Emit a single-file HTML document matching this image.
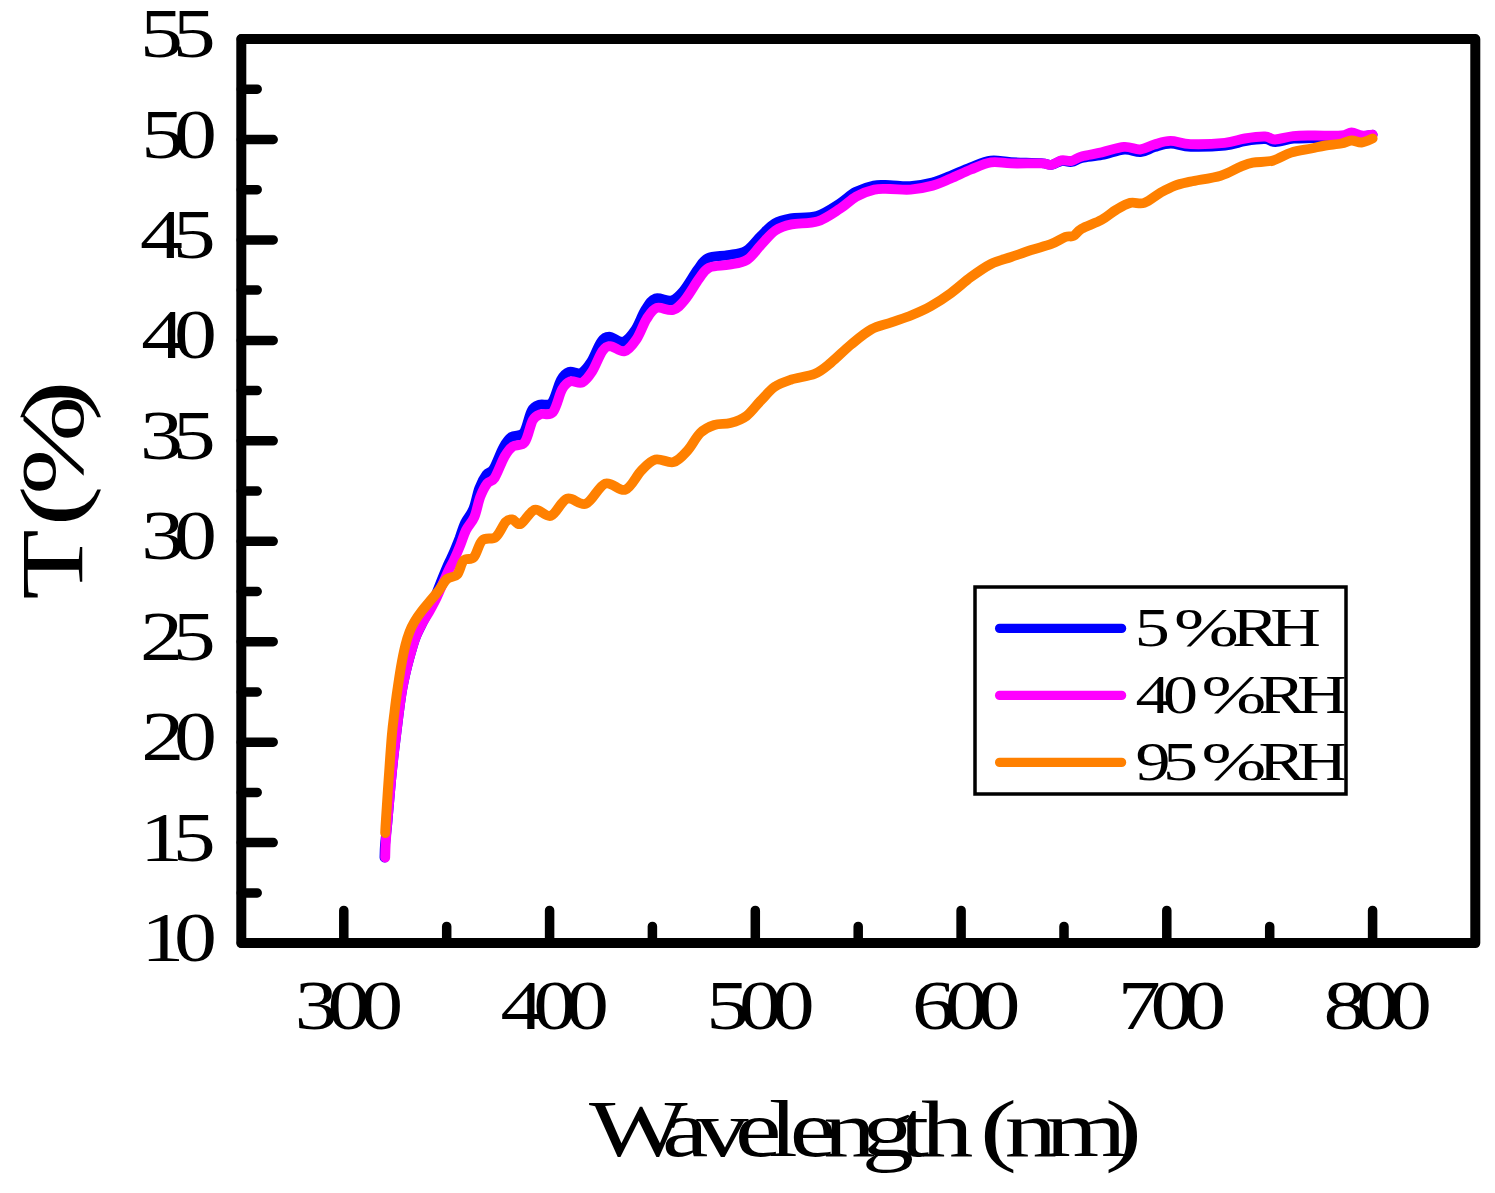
<!DOCTYPE html>
<html lang="en"><head><meta charset="utf-8"><title>T (%) vs Wavelength (nm)</title>
<style>html,body{margin:0;padding:0;background:#fff}svg{display:block}text{font-family:"Liberation Serif",serif;fill:#000}</style>
</head><body>
<svg width="1495" height="1193" viewBox="0 0 1495 1193">
<rect width="1495" height="1193" fill="#fff"/>
<defs><clipPath id="lg"><rect x="976" y="588" width="368.5" height="205"/></clipPath></defs>
<g fill="none" stroke-width="9.9" stroke-linecap="round" stroke-linejoin="round">
<path stroke="#0000ff" d="M384.5 857.5 C384.6 855.4 384.6 850.2 385.0 845.0 C385.4 839.8 386.3 833.3 387.0 826.4 C387.7 819.5 388.3 811.3 389.0 803.8 C389.7 796.2 390.3 788.6 391.0 781.1 C391.7 773.6 392.5 766.0 393.3 758.5 C394.1 751.0 395.1 743.3 396.0 735.8 C396.9 728.2 397.8 720.7 398.8 713.2 C399.8 705.7 400.7 698.2 402.0 690.6 C403.3 683.0 405.0 675.5 406.8 667.9 C408.6 660.3 411.4 650.8 413.0 645.3 C414.6 639.8 415.0 638.7 416.6 635.0 C418.2 631.3 420.4 627.1 422.5 622.9 C424.6 618.6 427.3 613.6 429.3 609.4 C431.3 605.2 432.9 601.7 434.6 597.8 C436.3 593.8 437.3 590.9 439.5 585.5 C441.6 580.1 445.3 570.9 447.6 565.6 C449.9 560.3 451.3 558.3 453.2 553.8 C455.2 549.2 457.6 543.1 459.6 538.0 C461.5 532.8 462.8 527.7 465.1 522.8 C467.4 518.0 471.1 514.7 473.4 508.9 C475.8 503.2 477.1 494.0 479.3 488.3 C481.4 482.6 483.9 477.9 486.3 474.7 C488.6 471.4 490.6 473.6 493.5 469.0 C496.4 464.4 500.5 452.5 503.5 447.2 C506.5 441.8 508.2 439.3 511.6 436.9 C514.9 434.5 520.2 437.3 523.6 432.9 C526.9 428.5 529.0 415.4 531.7 410.7 C534.3 406.0 536.3 406.0 539.7 404.7 C543.0 403.4 548.2 406.8 551.8 402.7 C555.3 398.6 558.1 385.0 561.0 379.9 C563.8 374.8 565.7 373.1 569.1 371.9 C572.4 370.7 577.5 374.6 581.2 372.9 C584.8 371.2 587.8 367.0 591.2 361.8 C594.5 356.6 598.2 345.9 601.3 341.7 C604.3 337.5 605.6 336.7 609.3 336.7 C612.9 336.7 619.0 342.9 623.4 341.7 C627.7 340.5 631.8 335.0 635.5 329.6 C639.1 324.2 642.1 314.7 645.5 309.5 C648.8 304.3 651.2 299.9 655.6 298.4 C659.9 296.9 667.0 301.8 671.7 300.5 C676.4 299.2 679.4 295.6 683.8 290.4 C688.1 285.2 693.8 274.7 697.9 269.3 C701.9 263.9 702.8 260.6 707.9 258.2 C712.9 255.8 721.6 256.4 728.0 255.2 C734.3 254.0 740.7 253.8 746.1 250.7 C751.5 247.6 755.6 241.1 760.3 236.6 C765.1 232.1 769.5 226.5 774.6 223.5 C779.6 220.5 783.7 219.7 790.8 218.4 C797.9 217.2 808.9 218.4 817.0 216.0 C825.2 213.5 833.1 207.7 839.5 203.7 C845.9 199.7 849.9 195.0 855.6 192.0 C861.4 189.0 868.1 186.6 873.8 185.5 C879.5 184.3 883.9 185.1 889.9 185.2 C896.0 185.3 903.0 186.6 910.1 186.1 C917.1 185.7 925.6 184.2 932.3 182.5 C939.1 180.8 944.1 178.3 950.5 175.8 C956.9 173.2 963.9 169.8 970.6 167.3 C977.4 164.8 984.1 161.5 990.8 160.7 C997.5 159.8 1002.5 161.8 1011.0 162.2 C1019.4 162.6 1034.5 162.7 1041.3 163.1 C1048.0 163.6 1048.0 165.2 1051.4 164.9 C1054.8 164.5 1058.1 161.5 1061.5 161.0 C1064.8 160.5 1068.2 162.4 1071.6 161.9 C1075.0 161.4 1076.7 159.2 1081.8 158.0 C1086.9 156.9 1094.9 156.4 1102.0 155.0 C1109.1 153.6 1118.0 150.0 1124.4 149.5 C1130.8 149.0 1135.5 152.5 1140.5 152.1 C1145.5 151.7 1149.6 148.5 1154.6 147.1 C1159.6 145.7 1164.7 143.6 1170.7 143.5 C1176.7 143.4 1181.8 146.4 1190.8 146.7 C1199.9 147.0 1215.9 146.4 1225.0 145.5 C1234.1 144.6 1238.5 142.2 1245.2 141.1 C1251.9 140.0 1260.3 138.9 1265.3 139.1 C1270.3 139.3 1270.7 142.2 1275.4 142.1 C1280.1 142.0 1287.1 139.4 1293.5 138.7 C1299.9 138.0 1305.6 138.3 1313.6 138.1 C1321.6 137.9 1335.3 138.1 1341.6 137.4 C1348.0 136.7 1348.3 133.9 1351.7 133.7 C1355.0 133.5 1358.2 136.0 1361.7 136.2 C1365.2 136.4 1370.8 135.0 1372.6 134.8"/>
<path stroke="#ff00ff" d="M385.2 857.5 C385.3 855.4 385.3 850.2 385.6 845.0 C385.9 839.8 386.4 833.3 387.0 826.4 C387.6 819.5 388.3 811.3 389.0 803.8 C389.7 796.2 390.3 788.6 391.0 781.1 C391.7 773.6 392.5 766.0 393.3 758.5 C394.1 751.0 395.1 743.3 396.0 735.8 C396.9 728.2 397.8 720.7 398.8 713.2 C399.8 705.7 400.7 698.2 402.0 690.6 C403.3 683.0 405.0 675.5 406.8 667.9 C408.6 660.3 411.4 650.8 413.0 645.3 C414.6 639.8 415.0 638.7 416.6 635.0 C418.2 631.3 420.4 627.0 422.5 623.0 C424.6 619.0 427.4 615.0 429.5 611.3 C431.6 607.6 433.2 604.5 435.0 601.0 C436.8 597.5 437.8 595.0 440.0 590.0 C442.2 585.0 446.0 576.1 448.3 571.1 C450.6 566.1 452.0 564.4 454.0 560.0 C456.0 555.6 458.4 550.0 460.4 545.0 C462.4 540.0 463.7 535.0 466.0 530.3 C468.3 525.6 472.0 522.6 474.4 517.0 C476.8 511.4 478.1 502.4 480.3 496.8 C482.5 491.2 484.9 486.5 487.3 483.4 C489.7 480.3 491.7 482.5 494.6 478.0 C497.5 473.5 501.6 461.8 504.6 456.5 C507.6 451.2 509.4 448.8 512.7 446.4 C516.1 444.0 521.4 446.8 524.7 442.4 C528.1 438.0 530.1 424.9 532.8 420.2 C535.5 415.5 537.4 415.5 540.8 414.2 C544.1 412.9 549.3 416.3 552.9 412.2 C556.5 408.1 559.2 394.5 562.1 389.4 C565.0 384.3 566.8 382.6 570.2 381.4 C573.6 380.2 578.6 384.1 582.3 382.4 C586.0 380.7 588.9 376.5 592.3 371.3 C595.6 366.1 599.4 355.4 602.4 351.2 C605.4 347.0 606.7 346.2 610.4 346.2 C614.1 346.2 620.1 352.4 624.5 351.2 C628.9 350.0 632.9 344.5 636.6 339.1 C640.3 333.7 643.2 324.2 646.6 319.0 C650.0 313.8 652.3 309.4 656.7 307.9 C661.1 306.4 668.1 311.3 672.8 310.0 C677.5 308.7 680.5 305.1 684.9 299.9 C689.3 294.7 695.0 284.2 699.0 278.8 C703.0 273.4 704.0 270.1 709.0 267.7 C714.0 265.3 722.7 266.0 729.1 264.7 C735.5 263.4 741.8 263.1 747.2 259.7 C752.6 256.3 756.6 249.5 761.3 244.6 C766.0 239.7 770.4 233.9 775.4 230.5 C780.4 227.1 784.5 225.9 791.5 224.4 C798.5 222.9 809.6 224.0 817.7 221.4 C825.8 218.8 833.7 212.8 840.1 208.7 C846.5 204.6 850.5 199.8 856.2 196.6 C861.9 193.4 868.6 190.9 874.3 189.6 C880.0 188.3 884.4 189.0 890.4 189.0 C896.4 189.0 903.5 190.2 910.5 189.6 C917.5 189.0 926.0 187.4 932.7 185.6 C939.4 183.8 944.4 181.2 950.8 178.5 C957.2 175.8 964.2 172.2 970.9 169.5 C977.6 166.8 984.3 163.4 991.0 162.4 C997.7 161.4 1002.7 163.2 1011.1 163.4 C1019.5 163.6 1034.6 163.2 1041.3 163.4 C1048.0 163.6 1048.1 165.3 1051.4 164.8 C1054.8 164.3 1058.1 161.1 1061.4 160.4 C1064.8 159.7 1068.1 161.5 1071.5 160.8 C1074.9 160.1 1076.6 157.8 1081.6 156.4 C1086.6 155.0 1094.6 154.0 1101.7 152.4 C1108.8 150.8 1117.7 147.4 1124.1 146.9 C1130.5 146.4 1135.2 149.9 1140.2 149.5 C1145.2 149.1 1149.3 145.9 1154.3 144.5 C1159.3 143.1 1164.4 141.0 1170.4 140.9 C1176.4 140.8 1181.5 143.8 1190.5 144.1 C1199.5 144.4 1215.6 143.8 1224.7 142.9 C1233.8 142.0 1238.2 139.6 1244.9 138.5 C1251.6 137.4 1260.0 136.3 1265.0 136.5 C1270.0 136.7 1270.4 139.6 1275.1 139.5 C1279.8 139.4 1286.8 136.8 1293.2 136.1 C1299.6 135.4 1305.3 135.6 1313.3 135.5 C1321.3 135.4 1335.0 136.0 1341.4 135.5 C1347.8 135.0 1348.1 132.4 1351.5 132.4 C1354.9 132.4 1358.1 135.1 1361.6 135.5 C1365.1 135.9 1370.8 134.9 1372.6 134.8"/>
<path stroke="#ff8000" d="M385.2 833.0 C385.3 830.8 385.3 828.6 385.9 820.0 C386.4 811.4 387.5 795.1 388.5 781.1 C389.5 767.1 390.8 747.3 391.8 735.8 C392.8 724.3 393.6 719.5 394.5 712.0 C395.4 704.5 396.2 698.0 397.3 690.6 C398.4 683.2 399.5 675.5 400.8 667.9 C402.1 660.3 403.9 651.3 405.4 645.3 C406.8 639.3 408.0 635.9 409.5 632.0 C411.0 628.1 412.2 625.5 414.3 622.0 C416.4 618.5 419.1 614.5 421.8 611.0 C424.5 607.5 427.5 604.1 430.3 600.7 C433.1 597.3 435.9 594.2 438.7 590.6 C441.5 587.0 444.0 581.5 447.1 578.9 C450.2 576.2 454.3 577.8 457.1 574.7 C459.9 571.6 461.0 563.3 463.8 560.4 C466.6 557.5 470.8 560.5 473.9 557.1 C477.0 553.8 478.7 543.6 482.3 540.3 C485.9 536.9 491.8 540.1 495.7 537.0 C499.6 533.9 502.9 524.8 505.7 521.9 C508.5 519.0 509.9 519.1 512.4 519.4 C514.9 519.7 517.0 525.5 520.7 523.9 C524.4 522.3 529.8 511.2 534.8 509.8 C539.8 508.4 545.5 517.6 550.9 515.8 C556.3 513.9 561.1 500.7 567.0 498.7 C572.9 496.7 579.7 506.2 586.1 503.7 C592.5 501.2 598.7 485.9 605.2 483.6 C611.8 481.3 619.4 491.9 625.4 489.7 C631.4 487.5 636.4 475.5 641.4 470.5 C646.4 465.5 650.1 460.9 655.5 459.5 C660.9 458.1 668.2 463.6 673.6 462.1 C679.0 460.6 683.3 455.2 687.7 450.4 C692.1 445.5 695.8 437.2 700.2 433.0 C704.6 428.8 709.3 426.7 714.3 425.0 C719.3 423.3 725.0 424.5 730.4 423.0 C735.8 421.5 741.5 419.6 746.5 415.9 C751.5 412.2 755.9 405.6 760.6 400.8 C765.3 396.0 769.7 390.3 774.7 386.8 C779.7 383.3 784.1 381.9 790.8 379.7 C797.5 377.5 808.2 376.5 814.9 373.7 C821.6 370.9 825.0 367.5 831.0 362.6 C837.0 357.7 844.4 350.0 851.1 344.5 C857.8 339.0 864.6 333.1 871.3 329.4 C878.0 325.7 884.7 324.8 891.4 322.4 C898.1 320.0 905.0 318.0 911.5 315.3 C918.0 312.6 924.2 310.0 930.7 306.3 C937.2 302.6 944.1 298.1 950.8 293.2 C957.5 288.3 964.2 282.0 970.9 277.1 C977.6 272.2 984.3 267.4 991.0 264.0 C997.7 260.6 1004.4 259.3 1011.1 257.0 C1017.8 254.7 1024.6 252.2 1031.3 250.0 C1038.0 247.8 1045.7 246.1 1051.4 243.9 C1057.1 241.7 1061.8 238.2 1065.5 236.9 C1069.2 235.6 1070.8 237.2 1073.5 235.9 C1076.2 234.6 1076.9 231.5 1081.6 228.8 C1086.3 226.1 1096.0 223.0 1101.7 219.8 C1107.5 216.7 1111.3 212.7 1116.1 209.9 C1120.8 207.1 1125.5 204.1 1130.2 202.9 C1134.9 201.7 1139.3 204.6 1144.3 202.9 C1149.3 201.2 1155.4 195.7 1160.4 192.8 C1165.4 190.0 1169.4 187.7 1174.4 185.8 C1179.4 184.0 1182.8 183.4 1190.5 181.7 C1198.2 180.0 1212.3 178.2 1220.7 175.7 C1229.1 173.2 1235.4 168.8 1240.8 166.6 C1246.2 164.4 1247.5 163.6 1252.9 162.6 C1258.3 161.6 1266.6 162.3 1273.0 160.6 C1279.4 158.9 1284.7 154.6 1291.1 152.6 C1297.5 150.6 1305.6 149.7 1311.3 148.5 C1317.0 147.3 1320.4 146.3 1325.4 145.5 C1330.4 144.7 1337.1 144.3 1341.4 143.5 C1345.8 142.7 1348.1 140.7 1351.5 140.5 C1354.9 140.3 1358.1 142.8 1361.6 142.5 C1365.1 142.2 1370.8 139.2 1372.6 138.5"/>
</g>
<g fill="none" stroke="#000" stroke-linecap="round" stroke-linejoin="round">
<rect x="241.3" y="39.0" width="1234.0" height="904.1" stroke-width="10"/>
<path stroke-width="9.5" d="M241.3 943.1 H273.2 M241.3 892.9 H257.2 M241.3 842.6 H273.2 M241.3 792.4 H257.2 M241.3 742.2 H273.2 M241.3 692.0 H257.2 M241.3 641.7 H273.2 M241.3 591.5 H257.2 M241.3 541.3 H273.2 M241.3 491.1 H257.2 M241.3 440.8 H273.2 M241.3 390.6 H257.2 M241.3 340.4 H273.2 M241.3 290.1 H257.2 M241.3 239.9 H273.2 M241.3 189.7 H257.2 M241.3 139.5 H273.2 M241.3 89.2 H257.2 M241.3 39.0 H273.2 M343.8 943.1 V910.4 M446.7 943.1 V926.4 M549.6 943.1 V910.4 M652.4 943.1 V926.4 M755.3 943.1 V910.4 M858.2 943.1 V926.4 M961.1 943.1 V910.4 M1064.0 943.1 V926.4 M1166.8 943.1 V910.4 M1269.7 943.1 V926.4 M1372.6 943.1 V910.4"/>
</g>
<text transform="translate(141.3 961.1) scale(1.250 1)" font-size="68.7" x="0.00 26.16">10</text>
<text transform="translate(140.1 860.6) scale(1.250 1)" font-size="68.7" x="0.00 26.16">15</text>
<text transform="translate(141.3 760.2) scale(1.250 1)" font-size="68.7" x="0.00 26.16">20</text>
<text transform="translate(140.1 659.7) scale(1.250 1)" font-size="68.7" x="0.00 26.16">25</text>
<text transform="translate(141.3 559.3) scale(1.250 1)" font-size="68.7" x="0.00 26.16">30</text>
<text transform="translate(140.1 458.8) scale(1.250 1)" font-size="68.7" x="0.00 26.16">35</text>
<text transform="translate(141.3 358.4) scale(1.250 1)" font-size="68.7" x="0.00 26.16">40</text>
<text transform="translate(140.1 257.9) scale(1.250 1)" font-size="68.7" x="0.00 26.16">45</text>
<text transform="translate(141.3 157.5) scale(1.250 1)" font-size="68.7" x="0.00 26.16">50</text>
<text transform="translate(140.1 57.0) scale(1.250 1)" font-size="68.7" x="0.00 26.16">55</text>
<text transform="translate(294.8 1029.0) scale(1.250 1)" font-size="68.7" x="0.00 26.16 52.32">300</text>
<text transform="translate(500.5 1029.0) scale(1.250 1)" font-size="68.7" x="0.00 26.16 52.32">400</text>
<text transform="translate(706.3 1029.0) scale(1.250 1)" font-size="68.7" x="0.00 26.16 52.32">500</text>
<text transform="translate(912.0 1029.0) scale(1.250 1)" font-size="68.7" x="0.00 26.16 52.32">600</text>
<text transform="translate(1117.8 1029.0) scale(1.250 1)" font-size="68.7" x="0.00 26.16 52.32">700</text>
<text transform="translate(1323.5 1029.0) scale(1.250 1)" font-size="68.7" x="0.00 26.16 52.32">800</text>
<text transform="translate(588.9 1156.2) scale(1.290 1)" font-size="81.0" x="0.00 56.60 83.21 113.20 139.50 155.70 181.92 211.52 241.11 257.39 287.76 303.14 322.33 353.71 400.04">Wavelength <tspan textLength="28.59" lengthAdjust="spacingAndGlyphs">(</tspan>nm<tspan textLength="28.59" lengthAdjust="spacingAndGlyphs">)</tspan></text>
<text transform="translate(82.1 599.6) rotate(-90) scale(1.286 1)" font-size="89.5" x="0.00 42.38 56.84 81.49 138.65">T <tspan textLength="31.89" lengthAdjust="spacingAndGlyphs">(</tspan><tspan textLength="76.79" lengthAdjust="spacingAndGlyphs">%</tspan><tspan textLength="31.89" lengthAdjust="spacingAndGlyphs">)</tspan></text>
<rect x="975" y="587" width="371" height="207" fill="none" stroke="#000" stroke-width="3.5"/>
<g fill="none" stroke-width="9.3" stroke-linecap="round">
<path stroke="#0000ff" d="M999.6 628.4 H1121.6"/>
<path stroke="#ff00ff" d="M999.6 695.4 H1121.6"/>
<path stroke="#ff8000" d="M999.6 762.4 H1121.6"/>
</g>
<g clip-path="url(#lg)">
<text transform="translate(1134.8 645.8) scale(1.290 1)" font-size="54.3" x="0.00 20.93 30.47 75.35 104.96">5 <tspan textLength="50.21" lengthAdjust="spacingAndGlyphs">%</tspan>RH</text>
<text transform="translate(1135.5 712.8) scale(1.290 1)" font-size="54.3" x="0.00 21.40 42.25 51.09 95.35 125.19">40 <tspan textLength="50.21" lengthAdjust="spacingAndGlyphs">%</tspan>RH</text>
<text transform="translate(1135.5 779.8) scale(1.290 1)" font-size="54.3" x="0.00 21.40 42.25 51.09 95.35 125.19">95 <tspan textLength="50.21" lengthAdjust="spacingAndGlyphs">%</tspan>RH</text>
</g>
</svg></body></html>
